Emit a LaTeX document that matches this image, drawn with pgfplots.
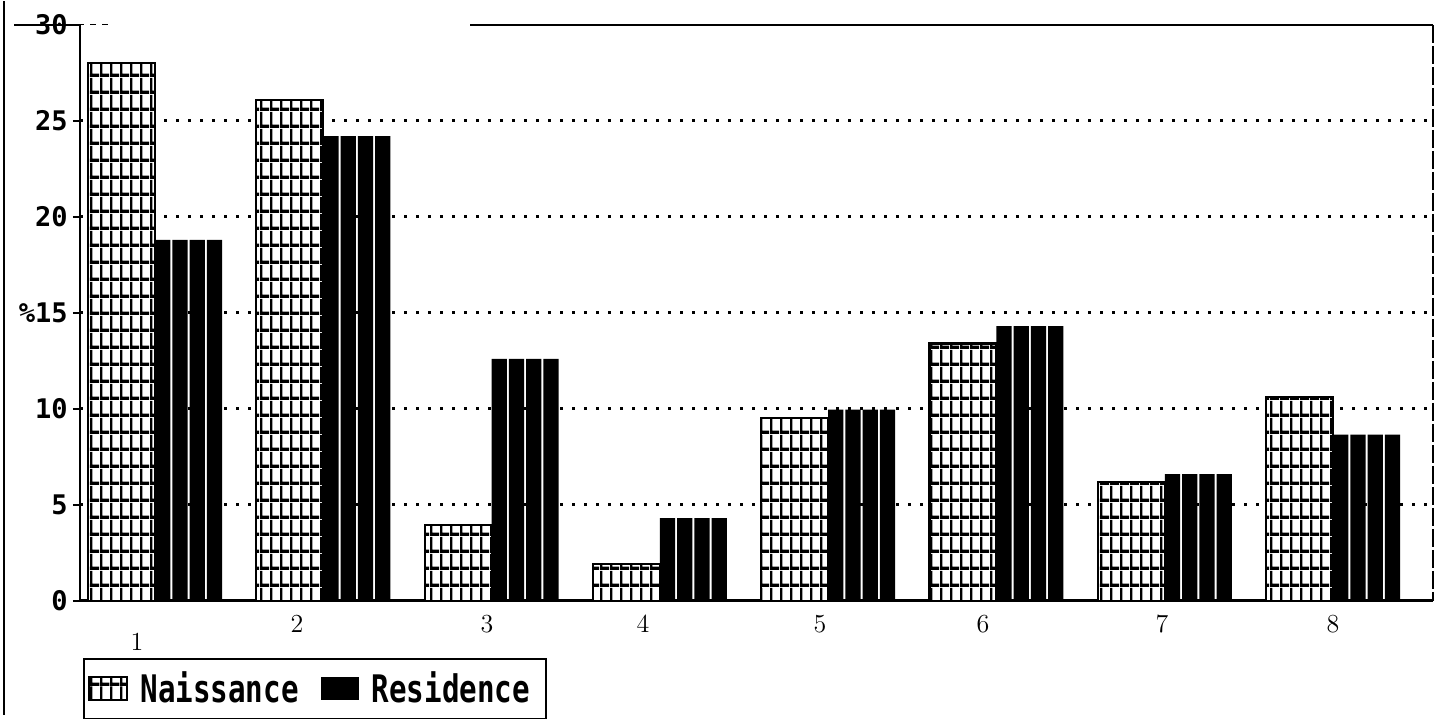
\documentclass[border=0pt]{standalone}
\usepackage{fontspec}
\usepackage{graphicx}
\usepackage{pgfplots}
\pgfplotsset{compat=1.18}
\usepackage{pgfplotstable}
\usetikzlibrary{patterns}
\newfontfamily\dmono{DejaVu Sans Mono}

\pgfdeclarepatternformonly{naiss}{\pgfpointorigin}{\pgfqpoint{5pt}{8.3pt}}{\pgfqpoint{5pt}{8.3pt}}{%
  \pgfpathrectangle{\pgfpointorigin}{\pgfqpoint{1.3pt}{8.3pt}}%
  \pgfpathrectangle{\pgfpointorigin}{\pgfqpoint{5pt}{1.7pt}}%
  \pgfusepath{fill}}

\pgfplotstableread{
x n r
1 28.0 18.8
2 26.1 24.2
3 3.95 12.6
4 1.93 4.3
5 9.5 9.95
6 13.4 14.3
7 6.2 6.6
8 10.6 8.65
}\data

\begin{document}
\begin{tikzpicture}
\begin{axis}[
  name=ax,
  scale only axis,
  width=676.5pt, height=288pt,
  xmin=0.554, xmax=8.594,
  ymin=0, ymax=30,
  clip=false,
  axis lines*=left,
  x axis line style={line width=1.3pt},
  y axis line style={line width=0.6pt},
  ytick={5,10,15,20,25},
  yticklabels={5,10,{\%15},20,25},
  extra y ticks={0,30},
  extra y tick labels={0,30},
  extra y tick style={grid=none},
  ymajorgrids,
  grid style={black, line width=1.3pt, dash pattern=on 1.3pt off 4.7pt},
  tick align=outside,
  major tick length=3.5pt,
  ytick style={line width=0.8pt, black},
  yticklabel style={font=\dmono\bfseries\fontsize{13.5}{14}\selectfont, inner sep=0pt, xshift=-2.5pt},
  xtick={0.893,1.844,2.973,3.900,4.951,5.920,6.983,8.000},
  xticklabels={\raisebox{-9pt}{1},2,3,4,5,6,7,8},
  xtick style={draw=none},
  xticklabel style={font=\fontsize{13}{13}\selectfont, text height=9pt, text depth=0pt, inner sep=0pt, yshift=-3pt},
  legend columns=2,
  legend style={at={(0,0)}, anchor=north west, xshift=1.5pt, yshift=-28.5pt,
    draw=black, line width=0.9pt, inner xsep=2pt, inner ysep=6.5pt,
    font=\dmono\bfseries\fontsize{14.6}{15}\selectfont,
    nodes={inner sep=0pt},
    /tikz/every odd column/.append style={column sep=6.5pt},
    /tikz/every even column/.append style={column sep=11pt}},
]
% Naissance
\addplot[ybar, bar width=0.398, bar shift=-0.199, draw=black, line width=1.1pt,
  preaction={fill=white}, pattern=naiss, pattern color=black,
  legend image code/.code={\draw[line width=0.8pt, preaction={fill=white}, pattern=naiss, pattern color=black] (0pt,-5.75pt) rectangle (19pt,5.75pt);}]
  table[x=x, y=n] {\data};
\addlegendentry{\scalebox{1}[1.3]{Naissance}}
% Residence (four strips)
\addplot[ybar, bar width=0.0905, bar shift=0.0453, draw=none, fill=black,
  legend image code/.code={\fill[black] (0pt,-5.75pt) rectangle (19pt,5.75pt);}]
  table[x=x, y=r] {\data};
\addlegendentry{\scalebox{1}[1.3]{Residence}\hspace*{6pt}}
\addplot[ybar, bar width=0.0905, bar shift=0.1478, draw=none, fill=black, forget plot]
  table[x=x, y=r] {\data};
\addplot[ybar, bar width=0.0905, bar shift=0.2503, draw=none, fill=black, forget plot]
  table[x=x, y=r] {\data};
\addplot[ybar, bar width=0.0905, bar shift=0.3528, draw=none, fill=black, forget plot]
  table[x=x, y=r] {\data};
% frame pieces
\draw[line width=0.9pt] (rel axis cs:0,1) -- ++(13.5pt,0);
\draw[line width=0.6pt, dash pattern=on 3pt off 3pt] ([xshift=14pt]rel axis cs:0,1) -- ++(12pt,0);
\draw[line width=0.8pt] ([xshift=195pt]rel axis cs:0,1) -- (rel axis cs:1,1);
\draw[line width=0.7pt, dash pattern=on 9pt off 1.5pt] (rel axis cs:1,1) -- (rel axis cs:1,0);
\draw[line width=0.8pt] ([shift={(-38pt,-57pt)}]rel axis cs:0,0) -- ([shift={(-38pt,12pt)}]rel axis cs:0,1);
\path ([shift={(-40pt,-57pt)}]rel axis cs:0,0) rectangle ([shift={(5.5pt,12pt)}]rel axis cs:1,1);
\end{axis}
\end{tikzpicture}
\end{document}
